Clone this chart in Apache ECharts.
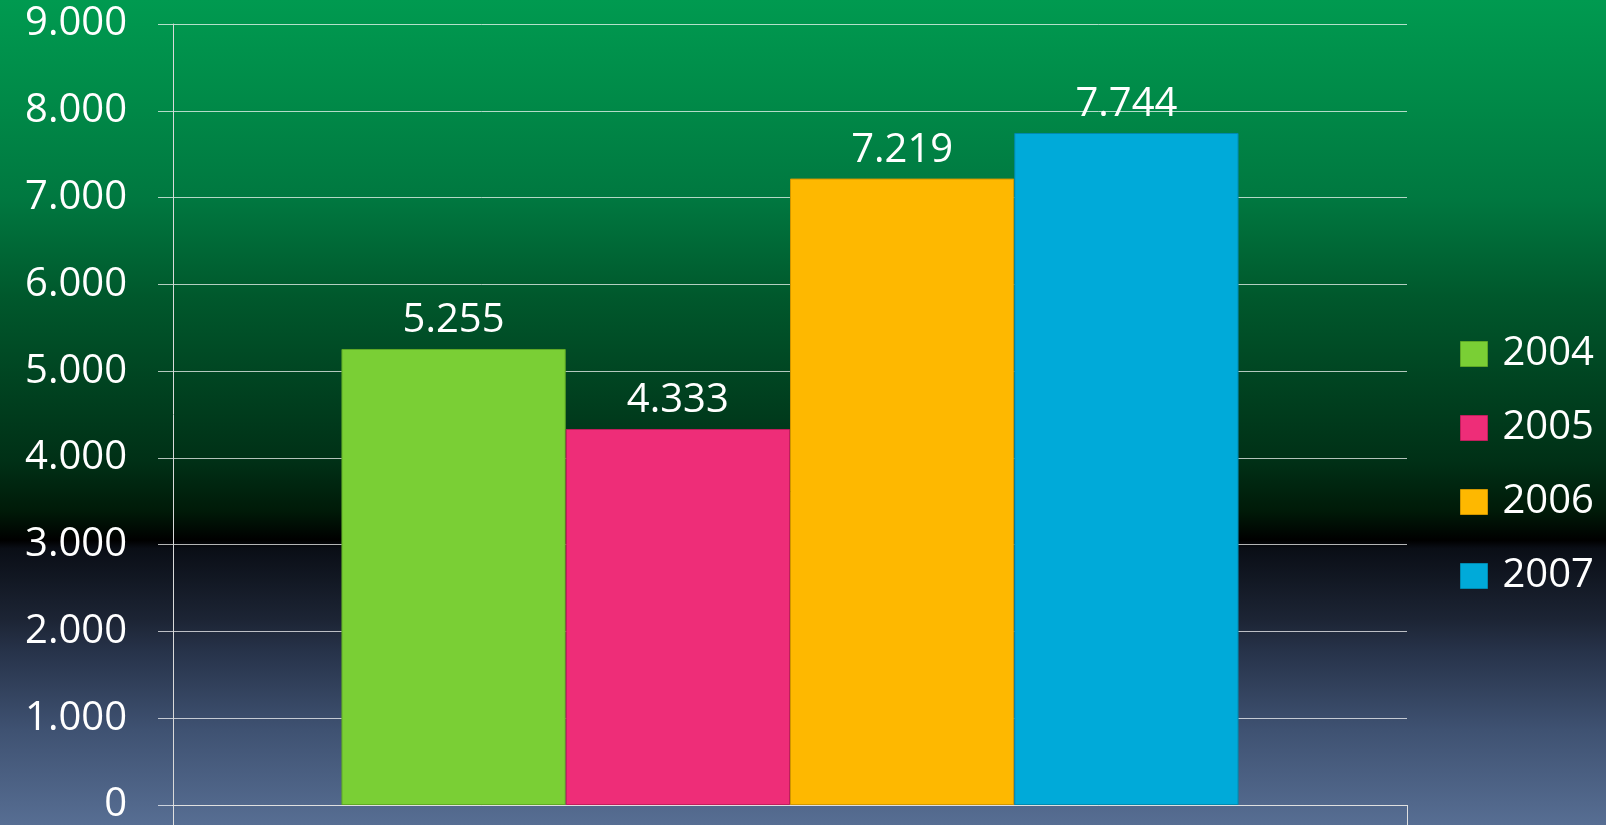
<!DOCTYPE html>
<html>
<head>
<meta charset="utf-8">
<script src="https://cdn.jsdelivr.net/npm/echarts@6/dist/echarts.min.js"></script>
<style>
html, body { margin: 0; padding: 0; }
#chart { width: 1606px; height: 825px; }
</style>
</head>
<body>
<div id="chart"></div>
<script>
// Daten
const categories = [''];
const years = ['2004', '2005', '2006', '2007'];
const values = [5255, 4333, 7219, 7744];
const colors = ['#7acf35', '#ee2d78', '#feb800', '#00aad9'];
const borders = ['#5ea826', '#c01e5c', '#d09600', '#0089b0'];

const fontName = '"Open Sans", "Noto Sans", sans-serif';

// 1.000 statt 1,000
function fmt(v) {
    return String(v).replace(/\B(?=(\d{3})+(?!\d))/g, '.');
}

const chart = echarts.init(document.getElementById('chart'));

const series = years.map((name, i) => ({
    name: name,
    type: 'bar',
    data: [values[i]],
    barGap: '0%',
    barCategoryGap: '27.3%',
    itemStyle: {
        color: colors[i],
        borderColor: borders[i],
        borderWidth: 1
    },
    label: {
        show: true,
        position: 'top',
        distance: 8,
        color: '#ffffff',
        fontSize: 40,
        fontFamily: fontName,
        formatter: p => fmt(p.value)
    }
}));

const option = {
    animation: false,
    backgroundColor: {
        type: 'linear',
        x: 0, y: 0, x2: 0, y2: 1,
        colorStops: [
            { offset: 0, color: '#009a50' },
            { offset: 0.12, color: '#008a48' },
            { offset: 0.24, color: '#007840' },
            { offset: 0.36, color: '#00582c' },
            { offset: 0.48, color: '#00401f' },
            { offset: 0.56, color: '#003016' },
            { offset: 0.62, color: '#001a08' },
            { offset: 0.655, color: '#000000' },
            { offset: 0.665, color: '#0a0e16' },
            { offset: 0.75, color: '#1c2434' },
            { offset: 0.79, color: '#27334a' },
            { offset: 0.885, color: '#3f5272' },
            { offset: 1, color: '#576e93' }
        ]
    },
    grid: {
        left: 173,
        right: 199,
        top: 24,
        bottom: 16
    },
    legend: {
        orient: 'vertical',
        left: 1455,
        top: 329,
        itemWidth: 27,
        itemHeight: 25,
        itemGap: 34,
        data: years.map((y, i) => ({
            name: y,
            icon: 'rect',
            itemStyle: { borderColor: borders[i], borderWidth: 1 }
        })),
        textStyle: {
            color: '#ffffff',
            fontSize: 40,
            fontFamily: fontName,
            padding: [0, 0, 0, 10]
        }
    },
    xAxis: {
        type: 'category',
        data: categories,
        axisLine: { show: true, lineStyle: { color: '#e0e0e0', width: 1 } },
        axisTick: { show: true, length: 20, lineStyle: { color: '#e0e0e0' } },
        axisLabel: { show: false }
    },
    yAxis: {
        type: 'value',
        min: 0,
        max: 9000,
        interval: 1000,
        axisLine: { show: true, lineStyle: { color: '#d9d9d9', width: 1 } },
        axisTick: { show: true, length: 15, lineStyle: { color: 'rgba(255,255,255,0.7)' } },
        splitLine: { show: true, lineStyle: { color: 'rgba(255,255,255,0.7)', width: 1 } },
        axisLabel: {
            color: '#ffffff',
            fontSize: 40,
            fontFamily: fontName,
            margin: 46,
            formatter: v => fmt(v)
        }
    },
    series: series
};

chart.setOption(option);
</script>
</body>
</html>
